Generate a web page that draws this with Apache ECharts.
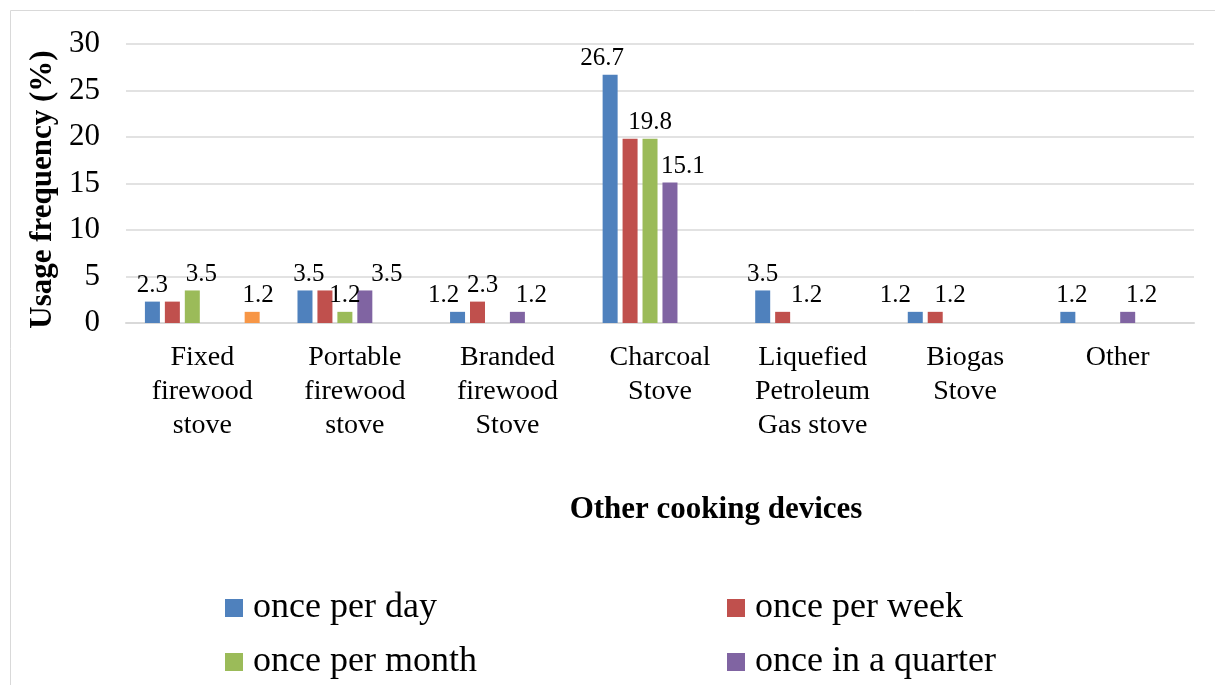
<!DOCTYPE html>
<html>
<head>
<meta charset="utf-8">
<title>Other cooking devices</title>
<script src="https://cdn.jsdelivr.net/npm/echarts@6/dist/echarts.min.js"></script>
<style>
	html, body { margin: 0; padding: 0; background: #fff; }
	#chart { width: 1215px; height: 685px; }
</style>
</head>
<body>
<div id="chart"></div>
<script>
// categories and values
var categories = ["Fixed\nfirewood\nstove", "Portable\nfirewood\nstove", "Branded\nfirewood\nStove", "Charcoal\nStove", "Liquefied\nPetroleum\nGas stove", "Biogas\nStove", "Other"];
var seriesNames = ["once per day", "once per week", "once per month", "once in a quarter", "once in six months", "once per year"];
var perDay = [2.3, 3.5, 1.2, 26.7, 3.5, 1.2, 1.2];
var perWeek = [2.3, 3.5, 2.3, 19.8, 1.2, 1.2, 0];
var perMonth = [3.5, 1.2, 0, 19.8, 0, 0, 0];
var perQuarter = [0, 3.5, 1.2, 15.1, 0, 0, 1.2];
var perHalfYear = [0, 0, 0, 0, 0, 0, 0];
var perYear = [1.2, 0, 0, 0, 0, 0, 0];
var yTicks = [0, 5, 10, 15, 20, 25, 30];

var colors = ['#4F81BD', '#C0504D', '#9BBB59', '#8064A2', '#4BACC6', '#F79646'];
var font = "'Liberation Serif', 'Times New Roman', serif";

// labels that are hidden / nudged sideways in the original ("series-category")
var hiddenLabels = { "1-0": true, "1-1": true, "1-3": true };
var labelShift = { "0-2": -14, "0-3": -8, "0-5": -20, "0-1": 4, "0-6": 4,
	"1-2": 5, "1-4": 24, "1-5": 15, "2-0": 9, "3-1": 22, "3-2": 14, "3-3": 13, "3-6": 14, "5-0": 6 };

init();

function buildData(values, s){
	var data = [];
	for (var i = 0; i < values.length; i++) {
		var key = s + "-" + i;
		var item = { value: values[i] };
		if(values[i] == 0 || hiddenLabels[key]){
			item.label = { show: false };
		}else if(labelShift[key]){
			item.label = { offset: [labelShift[key], 0] };
		}
		data.push(item);
	}
	return data;
}

function init(){
	var myChart = echarts.init(document.getElementById('chart'));
	var allValues = [perDay, perWeek, perMonth, perQuarter, perHalfYear, perYear];
	var series = [];
	for (var s = 0; s < allValues.length; s++) {
		series.push({
			name: seriesNames[s],
			type: 'bar',
			barWidth: 15,
			barGap: '33%',
			itemStyle: { color: colors[s] },
			label: {
				show: true,
				position: 'top',
				distance: 4,
				color: '#000',
				fontFamily: font,
				fontSize: 25
			},
			data: buildData(allValues[s], s)
		});
	}

	// legend is two columns, the last row is cut off in the original
	var legends = [];
	var legendPos = [[220, 583], [722, 583], [220, 637], [722, 637]];
	for (var l = 0; l < 4; l++) {
		legends.push({
			data: [seriesNames[l]],
			left: legendPos[l][0],
			top: legendPos[l][1],
			icon: 'rect',
			itemWidth: 18,
			itemHeight: 18,
			selectedMode: false,
			textStyle: { color: '#000', fontFamily: font, fontSize: 36, lineHeight: 40, padding: [0, 0, 0, 5] }
		});
	}

	var option = {
		animation: false,
		color: colors,
		graphic: [{
			type: 'rect',
			shape: { x: 10.5, y: 10.5, width: 1220, height: 700 },
			style: { fill: 'none', stroke: '#d9d9d9', lineWidth: 1 },
			silent: true
		}],
		legend: legends,
		grid: { left: 126, right: 21, top: 44, bottom: 362 },
		xAxis: [{
			type: 'category',
			data: categories,
			name: 'Other cooking devices',
			nameLocation: 'middle',
			nameGap: 171,
			nameTextStyle: { color: '#000', fontFamily: font, fontSize: 31, fontWeight: 'bold', padding: [0, 0, 0, 112] },
			axisLine: { lineStyle: { color: '#d9d9d9', width: 2 } },
			axisTick: { show: false },
			axisLabel: { color: '#000', fontFamily: font, fontSize: 28, lineHeight: 34, margin: 18, interval: 0 }
		}],
		yAxis: [{
			type: 'value',
			min: yTicks[0],
			max: yTicks[yTicks.length - 1],
			interval: yTicks[1] - yTicks[0],
			name: 'Usage frequency (%)',
			nameLocation: 'middle',
			nameGap: 64,
			nameTextStyle: { color: '#000', fontFamily: font, fontSize: 31, fontWeight: 'bold', padding: [0, 12, 0, 0] },
			axisLine: { show: false },
			axisTick: { show: false },
			axisLabel: { color: '#000', fontFamily: font, fontSize: 31, margin: 26 },
			splitLine: { lineStyle: { color: '#d9d9d9', width: 1.5 } }
		}],
		series: series
	};
	myChart.setOption(option);
}
</script>
</body>
</html>
